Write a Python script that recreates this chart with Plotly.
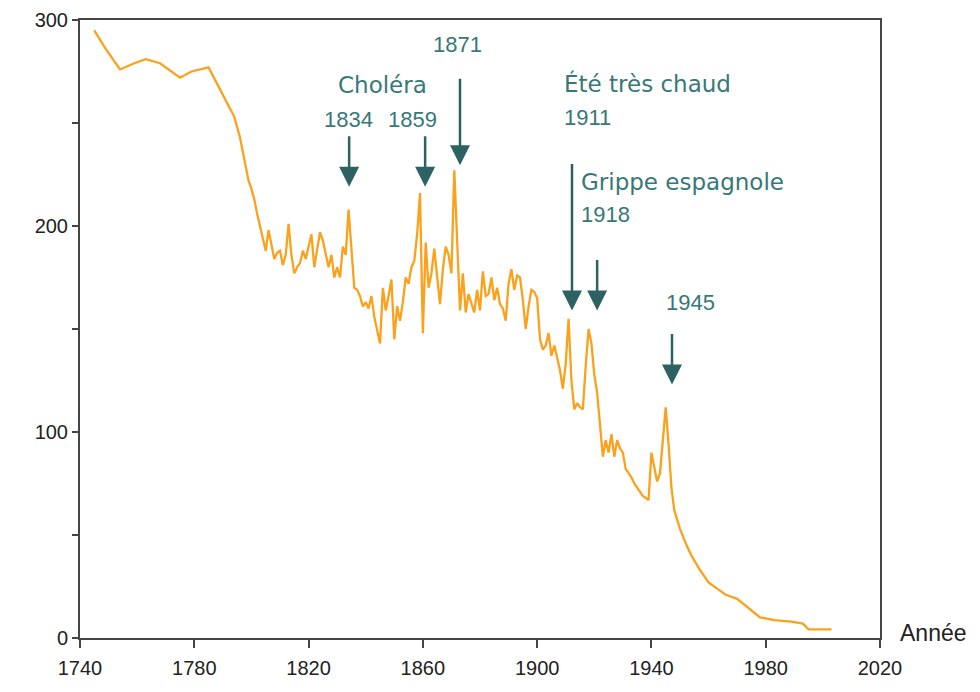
import plotly.graph_objects as go

# ---- data ----
annees = [1745, 1749, 1754, 1759, 1763, 1768, 1775, 1779, 1785, 1790, 1794, 1796, 1799,
          1800, 1801, 1802, 1803, 1804, 1805, 1806, 1807, 1808, 1809,
          1810, 1811, 1812, 1813, 1814, 1815, 1816, 1817, 1818, 1819,
          1820, 1821, 1822, 1823, 1824, 1825, 1826, 1827, 1828, 1829,
          1830, 1831, 1832, 1833, 1834, 1835, 1836, 1837, 1838, 1839,
          1840, 1841, 1842, 1843, 1844, 1845, 1846, 1847, 1848, 1849,
          1850, 1851, 1852, 1853, 1854, 1855, 1856, 1857, 1858, 1859,
          1860, 1861, 1862, 1863, 1864, 1865, 1866, 1867, 1868, 1869,
          1870, 1871, 1872, 1873, 1874, 1875, 1876, 1877, 1878, 1879,
          1880, 1881, 1882, 1883, 1884, 1885, 1886, 1887, 1888, 1889,
          1890, 1891, 1892, 1893, 1894, 1895, 1896, 1897, 1898, 1899,
          1900, 1901, 1902, 1903, 1904, 1905, 1906, 1907, 1908, 1909,
          1910, 1911, 1912, 1913, 1914, 1915, 1916, 1917, 1918, 1919,
          1920, 1921, 1922, 1923, 1924, 1925, 1926, 1927, 1928, 1929,
          1930, 1931, 1932, 1933, 1934, 1935, 1936, 1937, 1938, 1939,
          1940, 1941, 1942, 1943, 1944, 1945, 1946, 1947, 1948, 1949,
          1950, 1952, 1954, 1957, 1960, 1963, 1966, 1970, 1974, 1978,
          1983, 1989, 1993, 1995, 2003]
valeurs = [295, 286, 276, 279, 281, 279, 272, 275, 277, 264, 253, 243, 222,
           218, 213, 206, 200, 193, 188, 198, 190, 184, 187,
           188, 181, 186, 201, 186, 177, 180, 182, 188, 184,
           190, 196, 180, 188, 197, 193, 186, 180, 186, 175,
           180, 175, 190, 186, 208, 190, 170, 169, 166, 161,
           163, 160, 166, 156, 150, 143, 170, 159, 166, 174,
           145, 161, 154, 163, 175, 172, 180, 183, 196, 216,
           148, 192, 170, 177, 189, 176, 162, 179, 190, 186,
           177, 227, 192, 159, 177, 158, 167, 163, 158, 169,
           159, 178, 166, 167, 175, 164, 170, 162, 160, 154,
           172, 179, 169, 176, 175, 164, 150, 161, 169, 168,
           165, 145, 140, 142, 148, 137, 142, 136, 130, 121,
           133, 155, 125, 111, 114, 112, 111, 132, 150, 143,
           128, 119, 103, 88, 96, 90, 99, 88, 96, 92,
           90, 82, 80, 78, 75, 73, 71, 69, 68, 67,
           90, 83, 76, 80, 96, 112, 94, 73, 62, 57,
           53, 46, 40, 33, 27, 24, 21, 19, 14.5, 10,
           8.7, 8, 7, 4.2, 4.2]

x_ticks = [1740, 1780, 1820, 1860, 1900, 1940, 1980, 2020]
y_ticks = [0, 100, 200, 300]
y_minor = [50, 150, 250]

ORANGE = "#FBA11C"
TEAL_TXT = "#377878"
TEAL_ARR = "#2d6262"
AXIS = "#454545"
TICKFONT = dict(family="Liberation Sans, Arial, sans-serif", size=20, color="#222222")
WORD_FAMILY = "DejaVu Sans, Verdana, sans-serif"
DIGIT_FAMILY = "Liberation Sans, Arial, sans-serif"

fig = go.Figure()
fig.add_trace(go.Scatter(x=annees, y=valeurs, mode="lines",
                         line=dict(color=ORANGE, width=2.3), hoverinfo="x+y"))

# arrows (tip at x, y ; tail offset in pixels)
arrows = [(1834.2, 219, -52), (1860.8, 219, -52), (1873.0, 229.5, -88),
          (1912.2, 159, -148), (1921.0, 159, -52), (1947.2, 123, -52)]
for ax_, ay_, dy in arrows:
    fig.add_annotation(x=ax_, y=ay_, xref="x", yref="y", ax=0, ay=dy,
                       showarrow=True, arrowhead=2, arrowwidth=2.5, arrowsize=1.6,
                       arrowcolor=TEAL_ARR, text="")

texts = [("Choléra", 1845.7, 268.4, "center", 23, WORD_FAMILY),
         ("1834", 1833.8, 251.5, "center", 22, DIGIT_FAMILY),
         ("1859", 1856.2, 251.5, "center", 22, DIGIT_FAMILY),
         ("1871", 1872.0, 288.3, "center", 22, DIGIT_FAMILY),
         ("Été très chaud", 1908.7, 269.0, "left", 23, WORD_FAMILY),
         ("1911", 1908.7, 252.7, "left", 22, DIGIT_FAMILY),
         ("Grippe espagnole", 1914.7, 221.4, "left", 23, WORD_FAMILY),
         ("1918", 1914.7, 205.8, "left", 22, DIGIT_FAMILY),
         ("1945", 1953.5, 163.1, "center", 22, DIGIT_FAMILY)]
for t, x, y, anc, sz, fam in texts:
    fig.add_annotation(x=x, y=y, xref="x", yref="y", text=t, showarrow=False,
                       xanchor=anc, yanchor="middle",
                       font=dict(family=fam, size=sz, color=TEAL_TXT))

fig.add_annotation(x=1.0225, y=2.5, xref="paper", yref="y", text="Année",
                   showarrow=False, xanchor="left", yanchor="middle",
                   font=dict(family="Liberation Sans, Arial, sans-serif", size=23, color="#222222"))

fig.update_xaxes(range=[1740, 2020], tickvals=x_ticks, ticks="outside", ticklen=8,
                 tickwidth=2, tickcolor=AXIS, showline=True, linecolor=AXIS, linewidth=2,
                 mirror=True, showgrid=False, zeroline=False, tickfont=TICKFONT,
                 ticklabelstandoff=3, automargin=False)
fig.update_yaxes(range=[0, 300], tickvals=y_ticks, ticks="outside", ticklen=6,
                 tickwidth=2, tickcolor=AXIS, showline=True, linecolor=AXIS, linewidth=2,
                 mirror=True, showgrid=False, zeroline=False, tickfont=TICKFONT,
                 automargin=False,
                 minor=dict(tickvals=y_minor, ticks="outside", ticklen=6, tickwidth=2,
                            tickcolor=AXIS, showgrid=False))

# the page body adds an 8px offset; margins compensate so the plot box sits at 80..880 x 20..638
fig.update_layout(width=980, height=692, margin=dict(l=72, r=108, t=12, b=62),
                  plot_bgcolor="white", paper_bgcolor="white", showlegend=False)

fig.write_html("out.html")
